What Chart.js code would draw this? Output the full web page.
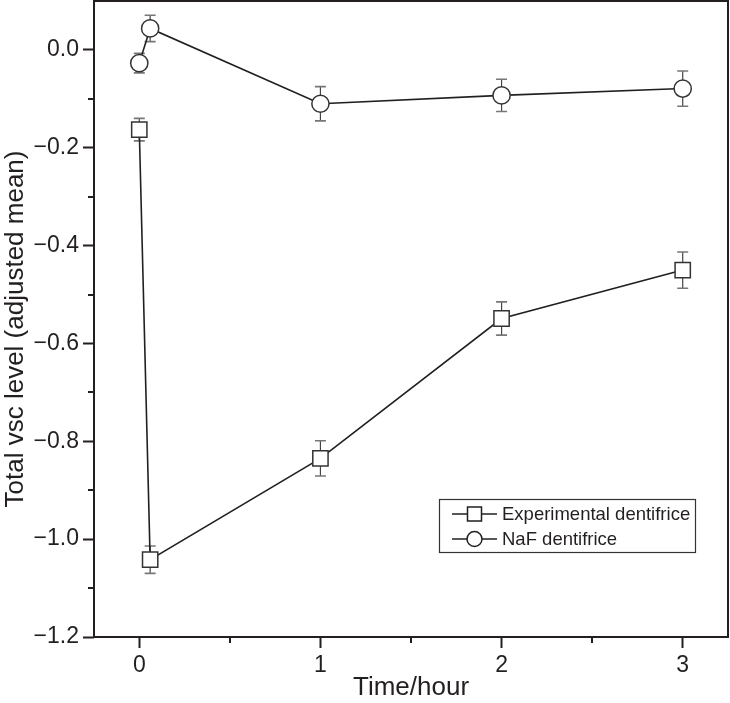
<!DOCTYPE html>
<html>
<head>
<meta charset="utf-8">
<script src="https://cdn.jsdelivr.net/npm/chart.js@4/dist/chart.umd.min.js"></script>
<style>
html,body{margin:0;padding:0;background:#fff;}
canvas{display:block;}
</style>
</head>
<body>
<canvas id="c" width="730" height="703"></canvas>
<script>
// ---- data ----
const seriesLabels = ['Experimental dentifrice', 'NaF dentifrice'];
const timeX = [0, 0.06, 1, 2, 3];
const expY = [-0.163, -1.042, -0.835, -0.549, -0.450];
const expErr = [0.023, 0.028, 0.036, 0.034, 0.037];
const nafY = [-0.027, 0.044, -0.110, -0.093, -0.079];
const nafErr = [0.020, 0.027, 0.035, 0.033, 0.036];
const xTicks = [0, 1, 2, 3];
const xMinorTicks = [0.5, 1.5, 2.5];
const yTicks = [-1.2, -1.0, -0.8, -0.6, -0.4, -0.2, 0.0];
const yMinorTicks = [-1.1, -0.9, -0.7, -0.5, -0.3, -0.1];
const xTitle = 'Time/hour';
const yTitle = 'Total vsc level (adjusted mean)';

const INK = '#231f20';
const FONT = "'Liberation Sans', Arial, sans-serif";

function pts(xs, ys) { return xs.map((x, i) => ({x: x, y: ys[i]})); }

const errorBars = {
  id: 'errorBars',
  beforeDatasetsDraw(chart) {
    const {ctx, scales: {x, y}} = chart;
    const errs = [expErr, nafErr];
    chart.data.datasets.forEach((ds, di) => {
      ctx.save();
      ds.data.forEach((p, i) => {
        const px = x.getPixelForValue(p.x);
        const yt = y.getPixelForValue(p.y + errs[di][i]);
        const yb = y.getPixelForValue(p.y - errs[di][i]);
        ctx.strokeStyle = '#444';
        ctx.lineWidth = 1.2;
        ctx.beginPath();
        ctx.moveTo(px, yt); ctx.lineTo(px, yb);
        ctx.stroke();
        ctx.strokeStyle = '#777';
        ctx.lineWidth = 1.6;
        ctx.beginPath();
        ctx.moveTo(px - 5.5, yt); ctx.lineTo(px + 5.5, yt);
        ctx.moveTo(px - 5.5, yb); ctx.lineTo(px + 5.5, yb);
        ctx.stroke();
      });
      ctx.restore();
    });
  }
};

const frameAndMinor = {
  id: 'frameAndMinor',
  afterDraw(chart) {
    const {ctx, chartArea: a, scales: {x, y}} = chart;
    ctx.save();
    ctx.strokeStyle = INK;
    ctx.lineWidth = 2;
    ctx.strokeRect(a.left, a.top, a.right - a.left, a.bottom - a.top);
    ctx.beginPath();
    xMinorTicks.forEach(v => {
      const px = Math.round(x.getPixelForValue(v));
      ctx.moveTo(px, a.bottom); ctx.lineTo(px, a.bottom + 6);
    });
    yMinorTicks.forEach(v => {
      const py = Math.round(y.getPixelForValue(v));
      ctx.moveTo(a.left, py); ctx.lineTo(a.left - 6, py);
    });
    ctx.stroke();
    // y-axis title, placed a little below the axis centre as in the reference
    ctx.fillStyle = INK;
    ctx.font = "26px " + FONT;
    ctx.textAlign = 'center';
    ctx.textBaseline = 'middle';
    ctx.translate(15.6, (a.top + a.bottom) / 2 + 10);
    ctx.rotate(-Math.PI / 2);
    ctx.fillText(yTitle, 0, 0);
    ctx.restore();
  }
};

const boxLegend = {
  id: 'boxLegend',
  afterDraw(chart) {
    const {ctx} = chart;
    const bx = 439.5, by = 499.5, bw = 256, bh = 53;
    ctx.save();
    ctx.strokeStyle = '#333';
    ctx.lineWidth = 1.2;
    ctx.strokeRect(bx, by, bw, bh);
    const rows = [514, 539];
    chart.data.datasets.forEach((ds, i) => {
      const cy = rows[i];
      ctx.strokeStyle = INK;
      ctx.lineWidth = 1.5;
      ctx.beginPath();
      ctx.moveTo(452, cy); ctx.lineTo(497, cy);
      ctx.stroke();
      ctx.fillStyle = '#fff';
      ctx.beginPath();
      if (ds.pointStyle === 'rect') {
        ctx.rect(467.5, cy - 7, 14, 14);
      } else {
        ctx.arc(474.5, cy, 7.5, 0, Math.PI * 2);
      }
      ctx.fill();
      ctx.stroke();
      ctx.fillStyle = INK;
      ctx.font = "18.5px " + FONT;
      ctx.textBaseline = 'middle';
      ctx.textAlign = 'left';
      ctx.fillText(ds.label, 502, cy + 1);
    });
    ctx.restore();
  }
};

new Chart(document.getElementById('c'), {
  type: 'line',
  data: {
    datasets: [
      {
        label: seriesLabels[0],
        data: pts(timeX, expY),
        borderColor: INK,
        borderWidth: 1.6,
        pointStyle: 'rect',
        pointRadius: 10.8,
        pointBackgroundColor: '#fff',
        pointBorderColor: '#333',
        pointBorderWidth: 1.5,
        tension: 0,
        clip: false
      },
      {
        label: seriesLabels[1],
        data: pts(timeX, nafY),
        borderColor: INK,
        borderWidth: 1.6,
        pointStyle: 'circle',
        pointRadius: 8.6,
        pointBackgroundColor: '#fff',
        pointBorderColor: '#333',
        pointBorderWidth: 1.5,
        tension: 0,
        clip: false
      }
    ]
  },
  options: {
    responsive: false,
    animation: false,
    events: [],
    layout: {autoPadding: false, padding: {top: 1, right: 2, left: 0, bottom: 0}},
    plugins: {legend: {display: false}, tooltip: {enabled: false}},
    scales: {
      x: {
        type: 'linear',
        min: -0.25, max: 3.25,
        afterBuildTicks: s => { s.ticks = xTicks.map(v => ({value: v})); },
        afterFit: s => { s.height = 66; s.paddingLeft = 0; s.paddingRight = 0; },
        border: {display: false},
        grid: {drawOnChartArea: false, drawTicks: true, tickLength: 11, tickWidth: 2, tickColor: INK},
        ticks: {
          color: INK, font: {family: FONT, size: 23}, padding: 4,
          maxRotation: 0, autoSkip: false,
          callback: v => String(v)
        },
        title: {display: true, text: xTitle, color: INK, font: {family: FONT, size: 26}, padding: {top: 0, bottom: 0}}
      },
      y: {
        type: 'linear',
        min: -1.2, max: 0.1,
        afterBuildTicks: s => { s.ticks = yTicks.map(v => ({value: v})); },
        afterFit: s => { s.width = 94; s.paddingTop = 0; s.paddingBottom = 0; },
        border: {display: false},
        grid: {drawOnChartArea: false, drawTicks: true, tickLength: 11, tickWidth: 2, tickColor: INK},
        ticks: {
          color: INK, font: {family: FONT, size: 23}, padding: 4, autoSkip: false,
          callback: v => (Math.abs(v) < 1e-9 ? '0.0' : (v < 0 ? '\u2212' + Math.abs(v).toFixed(1) : v.toFixed(1)))
        },
        title: {display: false, text: yTitle}
      }
    }
  },
  plugins: [errorBars, frameAndMinor, boxLegend]
});
</script>
</body>
</html>
